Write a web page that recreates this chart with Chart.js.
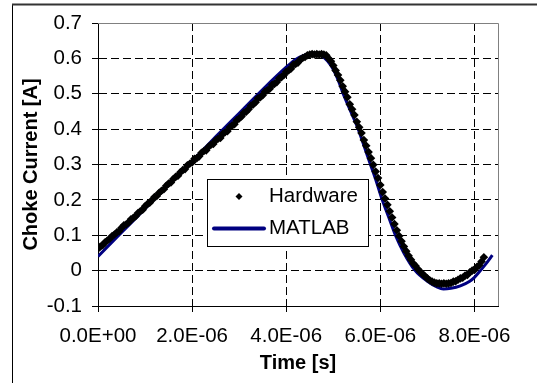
<!DOCTYPE html>
<html><head><meta charset="utf-8">
<script src="https://cdn.jsdelivr.net/npm/chart.js@4/dist/chart.umd.min.js"></script>
<style>html,body{margin:0;padding:0;background:#fff;}#wrap{width:537px;height:383px;}</style>
</head><body><div id="wrap"><canvas id="c" width="537" height="383"></canvas></div>
<script>
// ---- data (time in microseconds, current in A) ----
const matlabTimeUs = [0, 0.5, 1.0, 1.5, 2.0, 2.5, 3.0, 3.5, 4.0, 4.2, 4.4, 4.55, 4.65, 4.8, 4.95, 5.1, 5.21, 5.37, 5.53, 5.66, 5.79, 5.92, 6.04, 6.18, 6.32, 6.5, 6.74, 7.0, 7.2, 7.34, 7.5, 7.7, 7.9, 8.0, 8.1, 8.2, 8.3, 8.38];
const matlabCurrent = [0.040, 0.108, 0.175, 0.243, 0.310, 0.378, 0.445, 0.512, 0.575, 0.597, 0.610, 0.615, 0.614, 0.603, 0.580, 0.540, 0.500, 0.450, 0.400, 0.350, 0.300, 0.250, 0.200, 0.150, 0.100, 0.050, 0.000, -0.030, -0.046, -0.052, -0.050, -0.043, -0.030, -0.019, -0.004, 0.012, 0.029, 0.044];

const hardwareTimeUs = [0.00,0.05,0.10,0.15,0.20,0.25,0.30,0.35,0.40,0.45,0.50,0.55,0.60,0.65,0.70,0.75,0.80,0.85,0.90,0.95,
1.00,1.05,1.10,1.15,1.20,1.25,1.30,1.35,1.40,1.45,1.50,1.55,1.60,1.65,1.70,1.75,1.80,1.85,1.90,1.95,
2.00,2.05,2.10,2.15,2.20,2.25,2.30,2.35,2.40,2.45,2.50,2.55,2.60,2.65,2.70,2.75,2.80,2.85,2.90,2.95,
3.00,3.05,3.10,3.15,3.20,3.25,3.30,3.35,3.40,3.45,3.50,3.55,3.60,3.65,3.70,3.75,3.80,3.85,3.90,3.95,
4.00,4.05,4.10,4.15,4.20,4.25,4.30,4.35,4.40,4.45,4.50,4.55,4.60,4.65,4.70,4.75,4.80,4.85,4.90,4.95,
5.00,5.05,5.10,5.15,5.20,5.25,5.30,5.35,5.40,5.45,5.50,5.55,5.60,5.65,5.70,5.75,5.80,5.85,5.90,5.95,
6.00,6.05,6.10,6.15,6.20,6.25,6.30,6.35,6.40,6.45,6.50,6.55,6.60,6.65,6.70,6.75,6.80,6.85,6.90,6.95,
7.00,7.05,7.10,7.15,7.20,7.25,7.30,7.35,7.40,7.45,7.50,7.55,7.60,7.65,7.70,7.75,7.80,7.85,7.90,7.95,
8.00,8.05,8.10,8.15,8.20];
const hardwareCurrent = [0.062,0.068,0.072,0.080,0.085,0.090,0.098,0.102,0.108,0.112,0.121,0.128,0.131,0.136,0.145,0.149,0.154,0.163,0.168,0.172,
0.182,0.188,0.192,0.200,0.208,0.211,0.220,0.226,0.230,0.240,0.246,0.249,0.259,0.265,0.268,0.278,0.284,0.287,0.298,0.302,
0.306,0.316,0.318,0.323,0.333,0.338,0.340,0.350,0.356,0.358,0.368,0.373,0.375,0.386,0.391,0.394,0.405,0.410,0.414,0.425,
0.430,0.436,0.446,0.449,0.456,0.466,0.470,0.476,0.487,0.490,0.496,0.506,0.510,0.514,0.525,0.528,0.533,0.544,0.547,0.553,
0.562,0.566,0.571,0.582,0.584,0.588,0.597,0.601,0.604,0.609,0.611,0.612,0.611,0.612,0.611,0.612,0.611,0.609,0.600,0.592,
0.580,0.566,0.553,0.538,0.521,0.506,0.490,0.470,0.456,0.440,0.421,0.405,0.389,0.369,0.353,0.335,0.318,0.299,0.280,0.262,
0.242,0.222,0.204,0.186,0.168,0.150,0.132,0.114,0.098,0.083,0.068,0.055,0.042,0.031,0.020,0.013,0.004,-0.003,-0.010,-0.016,
-0.022,-0.027,-0.031,-0.034,-0.036,-0.036,-0.037,-0.036,-0.037,-0.036,-0.035,-0.031,-0.030,-0.026,-0.022,-0.020,-0.014,-0.012,-0.005,0.000,
0.002,0.010,0.015,0.026,0.038];

const xTickValues = [0, 2e-6, 4e-6, 6e-6, 8e-6];
const xTickLabels = ['0.0E+00', '2.0E-06', '4.0E-06', '6.0E-06', '8.0E-06'];
const yTickValues = [-0.1, 0, 0.1, 0.2, 0.3, 0.4, 0.5, 0.6, 0.7];
const yTickLabels = ['-0.1', '0', '0.1', '0.2', '0.3', '0.4', '0.5', '0.6', '0.7'];

const US = 1e-6;
const FONT = 'Liberation Sans, Arial, sans-serif';

const framePlugin = {
  id: 'frame',
  beforeDraw(chart) {
    const ctx = chart.ctx;
    ctx.save();
    ctx.fillStyle = '#fff';
    ctx.fillRect(0, 0, chart.width, chart.height);
    ctx.strokeStyle = '#000';
    ctx.lineWidth = 1;
    ctx.beginPath();
    ctx.moveTo(12.5, chart.height);
    ctx.lineTo(12.5, 4.5);
    ctx.stroke();
    ctx.strokeStyle = '#333';
    ctx.lineWidth = 2;
    ctx.beginPath();
    ctx.moveTo(12, 4.5);
    ctx.lineTo(chart.width, 4.5);
    ctx.stroke();
    ctx.restore();
  },
  afterDraw(chart) {
    const ctx = chart.ctx;
    const a = chart.chartArea;
    ctx.save();
    ctx.strokeStyle = '#808080';
    ctx.lineWidth = 1;
    ctx.setLineDash([]);
    ctx.beginPath();
    ctx.moveTo(a.left, Math.round(a.top) + 0.5);
    ctx.lineTo(Math.round(a.right) + 0.5, Math.round(a.top) + 0.5);
    ctx.lineTo(Math.round(a.right) + 0.5, a.bottom);
    ctx.stroke();

    // legend
    const bx = 207.5, by = 179.5, bw = 161, bh = 67;
    ctx.fillStyle = '#fff';
    ctx.fillRect(bx, by, bw, bh);
    ctx.strokeStyle = '#000';
    ctx.lineWidth = 1;
    ctx.strokeRect(bx, by, bw, bh);
    const ds = chart.data.datasets;
    ctx.font = '20.5px ' + FONT;
    ctx.textBaseline = 'middle';
    ctx.textAlign = 'left';
    const hw = ds[0];
    const r1 = 196.5;
    ctx.fillStyle = hw.pointBackgroundColor;
    ctx.beginPath();
    ctx.moveTo(239, r1 - 3.5);
    ctx.lineTo(242.5, r1);
    ctx.lineTo(239, r1 + 3.5);
    ctx.lineTo(235.5, r1);
    ctx.closePath();
    ctx.fill();
    ctx.fillStyle = '#000';
    ctx.fillText(hw.label, 269, r1);
    const ml = ds[1];
    const r2 = 228.5;
    ctx.strokeStyle = ml.borderColor;
    ctx.lineWidth = 4;
    ctx.lineCap = 'round';
    ctx.beginPath();
    ctx.moveTo(214, r2);
    ctx.lineTo(264, r2);
    ctx.stroke();
    ctx.fillText(ml.label, 269, r2);
    ctx.restore();
  }
};

new Chart(document.getElementById('c'), {
  type: 'scatter',
  data: {
    datasets: [
      {
        label: 'Hardware',
        data: hardwareTimeUs.map((t, i) => ({x: t * US, y: hardwareCurrent[i]})),
        showLine: false,
        pointStyle: 'rectRot',
        pointRadius: 4.3,
        pointBackgroundColor: '#000',
        pointBorderColor: '#000',
        pointBorderWidth: 0,
        order: 0
      },
      {
        label: 'MATLAB',
        data: matlabTimeUs.map((t, i) => ({x: t * US, y: matlabCurrent[i]})),
        showLine: true,
        borderColor: '#000080',
        backgroundColor: '#000080',
        borderWidth: 3,
        pointRadius: 0,
        cubicInterpolationMode: 'monotone',
        fill: false,
        order: 1
      }
    ]
  },
  options: {
    responsive: false,
    devicePixelRatio: 1,
    animation: false,
    layout: {padding: {left: 0, right: 39, top: 23, bottom: 0}},
    plugins: {legend: {display: false}, tooltip: {enabled: false}},
    scales: {
      x: {
        type: 'linear',
        min: 0,
        max: 8.5e-6,
        afterBuildTicks: s => { s.ticks = xTickValues.map(v => ({value: v})); },
        afterFit: s => { s.height = 77; },
        ticks: {
          callback: (v, i) => xTickLabels[i],
          color: '#000',
          font: {family: FONT, size: 20.5},
          padding: 12,
          maxRotation: 0,
          autoSkip: false
        },
        grid: {color: '#000', lineWidth: 1, tickLength: 6, tickColor: '#000', drawTicks: true},
        border: {display: true, color: '#000', width: 1, dash: [8, 4]},
        title: {
          display: true,
          text: 'Time [s]',
          color: '#000',
          font: {family: FONT, size: 20, weight: 'bold'},
          padding: {top: 0, bottom: 8}
        }
      },
      y: {
        type: 'linear',
        min: -0.1,
        max: 0.7,
        afterBuildTicks: s => { s.ticks = yTickValues.map(v => ({value: v})); },
        afterFit: s => { s.width = 98; },
        ticks: {
          callback: (v, i) => yTickLabels[i],
          color: '#000',
          font: {family: FONT, size: 20.5},
          padding: 10,
          autoSkip: false
        },
        grid: {color: '#000', lineWidth: 1, tickLength: 6, tickColor: '#000', drawTicks: true},
        border: {display: true, color: '#000', width: 1, dash: [8, 4]},
        title: {
          display: true,
          text: 'Choke Current [A]',
          color: '#000',
          font: {family: FONT, size: 20, weight: 'bold'},
          padding: {top: 19, bottom: 0}
        }
      }
    }
  },
  plugins: [framePlugin]
});
</script>
</body></html>
